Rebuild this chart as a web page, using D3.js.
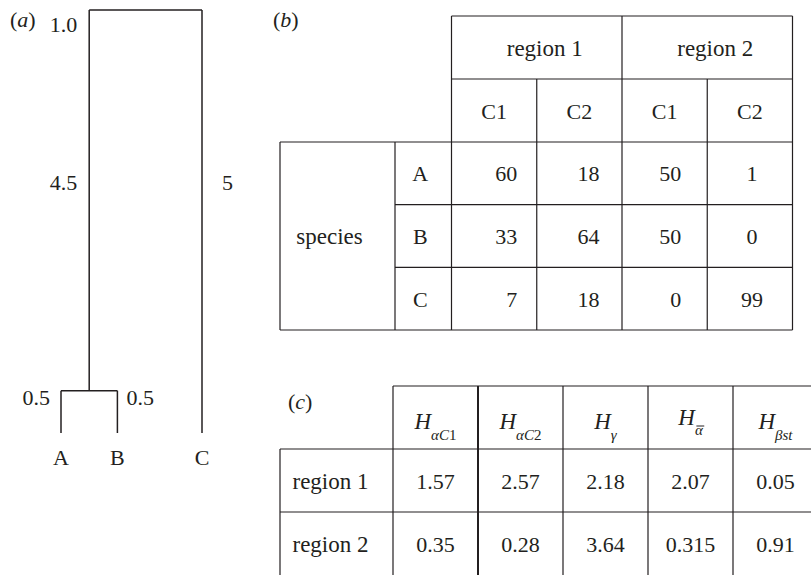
<!DOCTYPE html>
<html><head><meta charset="utf-8">
<script src="https://cdn.jsdelivr.net/npm/d3@7"></script>
<style>
html,body{margin:0;padding:0;background:#fff;}
svg{display:block;font-family:"Liberation Serif","Times New Roman",serif;}
</style></head><body>
<svg id="chart" width="811" height="575"></svg>
<script>
// ---------- data ----------
// (a) dendrogram
const nodeNames = ["root", "AB", "A", "B", "C"];
const nodeParents = ["", "root", "AB", "AB", "root"];
const nodeBranchLengths = [0, 4.5, 0.5, 0.5, 5];
const rootLabel = "1.0";
// (b) abundance table
const regions = ["region 1", "region 2"];
const communities = ["C1", "C2"];
const species = ["A", "B", "C"];
const region1C1 = [60, 33, 7];
const region1C2 = [18, 64, 18];
const region2C1 = [50, 50, 0];
const region2C2 = [1, 0, 99];
// (c) diversity table
const indexSubscripts = ["αC1", "αC2", "γ", "α", "βst"];
const indexRows = ["region 1", "region 2"];
const region1Index = [1.57, 2.57, 2.18, 2.07, 0.05];
const region2Index = [0.35, 0.28, 3.64, 0.315, 0.91];

// ---------- drawing ----------
const INK = "#231f20";
const FS = 22;      // numbers / single letters
const FW = 23;      // words
const svg = d3.select("#chart");

function panelLabel(x, y, letter) {
  const t = svg.append("text").attr("x", x).attr("y", y).attr("font-size", FS).attr("fill", INK);
  t.append("tspan").text("(");
  t.append("tspan").attr("font-style", "italic").text(letter);
  t.append("tspan").text(")");
}

// ===== (a) =====
panelLabel(10, 27, "a");
const rows = nodeNames.map((n, i) => ({ id: n, parent: nodeParents[i], len: nodeBranchLengths[i] }));
const root = d3.stratify().id(d => d.id).parentId(d => d.parent || null)(rows);
root.eachBefore(n => { n.h = (n.parent ? n.parent.h : 0) + n.data.len; });
const yTree = d3.scaleLinear().domain([0, 5]).range([10, 433]);
const leaves = root.leaves();
let slot = 0;
leaves.forEach((l, i) => {
  if (i > 0 && leaves[i - 1].parent !== l.parent) slot += 0.5;
  l.slot = slot; slot += 1;
});
const xTree = d3.scaleLinear().domain([0, d3.max(leaves, l => l.slot)]).range([61, 202]);
root.eachAfter(n => {
  n.x = n.children ? d3.mean([n.children[0].x, n.children[n.children.length - 1].x]) : xTree(n.slot);
  n.y = yTree(n.h);
});
const gA = svg.append("g").attr("fill", "none").attr("stroke", INK).attr("stroke-width", 1.5);
root.descendants().forEach(n => {
  if (n.children) {
    const c = n.children;
    gA.append("line").attr("x1", c[0].x).attr("x2", c[c.length - 1].x).attr("y1", n.y).attr("y2", n.y);
  }
  if (n.parent) {
    gA.append("line").attr("x1", n.x).attr("x2", n.x).attr("y1", n.parent.y).attr("y2", n.y);
  }
});
const tA = svg.append("g").attr("font-size", FS).attr("fill", INK);
tA.append("text").attr("x", root.children[0].x - 12).attr("y", root.y + 22).attr("text-anchor", "end").text(rootLabel);
const ab = root.children[0], cNode = root.children[1];
const midY = yTree(ab.data.len / 2) - 10;
tA.append("text").attr("x", ab.x - 12).attr("y", midY).attr("text-anchor", "end").text(ab.data.len);
tA.append("text").attr("x", cNode.x + 20).attr("y", midY).attr("text-anchor", "start").text(cNode.data.len);
tA.append("text").attr("x", ab.children[0].x - 11).attr("y", ab.y + 14).attr("text-anchor", "end").text(ab.children[0].data.len.toFixed(1));
tA.append("text").attr("x", ab.children[1].x + 9).attr("y", ab.y + 14).attr("text-anchor", "start").text(ab.children[1].data.len.toFixed(1));
leaves.forEach(l => {
  tA.append("text").attr("x", l.x).attr("y", l.y + 32).attr("text-anchor", "middle").text(l.id);
});

// ===== (b) =====
panelLabel(273, 27, "b");
const colKeys = [];
regions.forEach(r => communities.forEach(c => colKeys.push(r + "|" + c)));
const colVals = [region1C1, region1C2, region2C1, region2C2];
const xB = d3.scaleBand().domain(colKeys).range([451.5, 792.5]);
const yBh = d3.scaleBand().domain(["region", "community"]).range([16, 142]);
const yB = d3.scaleBand().domain(species).range([142, 330]);
const xSpecies = [280, 395];
const gB = svg.append("g").attr("stroke", INK).attr("stroke-width", 1.2);
const L = (g, x1, y1, x2, y2) => g.append("line").attr("x1", x1).attr("y1", y1).attr("x2", x2).attr("y2", y2);
const bR = xB.range()[1], bL = xB.range()[0];
L(gB, bL, 16, bR, 16);
L(gB, bL, yBh("community"), bR, yBh("community"));
L(gB, xSpecies[0], 142, bR, 142);
species.slice(1).forEach(s => L(gB, xSpecies[1], yB(s), bR, yB(s)));
L(gB, xSpecies[0], 330, bR, 330);
L(gB, xSpecies[0], 142, xSpecies[0], 330);
L(gB, xSpecies[1], 142, xSpecies[1], 330);
colKeys.forEach((k, i) => {
  const top = (i % communities.length === 0) ? 16 : yBh("community");
  L(gB, xB(k), top, xB(k), 330);
});
L(gB, bR, 16, bR, 330);
const tB = svg.append("g").attr("font-size", FS).attr("fill", INK);
regions.forEach((r, i) => {
  const x0 = xB(colKeys[i * 2]), x1 = xB(colKeys[i * 2 + 1]) + xB.bandwidth();
  tB.append("text").attr("x", (x0 + x1) / 2 + 8).attr("y", yBh("region") + yBh.bandwidth() / 2 + 8)
    .attr("font-size", FW).attr("text-anchor", "middle").text(r);
});
colKeys.forEach(k => {
  tB.append("text").attr("x", xB(k) + xB.bandwidth() / 2).attr("y", yBh("community") + yBh.bandwidth() / 2 + 8)
    .attr("text-anchor", "middle").text(k.split("|")[1]);
});
tB.append("text").attr("x", (xSpecies[0] + xSpecies[1]) / 2 - 8).attr("y", 236 + 8)
  .attr("font-size", FW).attr("text-anchor", "middle").text("species");
const numPad = [19.5, 22.5, 26];
species.forEach((s, j) => {
  const cy = yB(s) + yB.bandwidth() / 2 + 8;
  tB.append("text").attr("x", (xSpecies[1] + bL) / 2 - 3).attr("y", cy).attr("text-anchor", "middle").text(s);
  colKeys.forEach((k, i) => {
    const v = colVals[i][j];
    if (i < 3) {
      tB.append("text").attr("x", xB(k) + xB.bandwidth() - numPad[i]).attr("y", cy).attr("text-anchor", "end").text(v);
    } else {
      tB.append("text").attr("x", xB(k) + xB.bandwidth() / 2 + 2).attr("y", cy).attr("text-anchor", "middle").text(v);
    }
  });
});

// ===== (c) =====
panelLabel(288, 409, "c");
const xC = d3.scaleBand().domain(indexSubscripts).range([393, 818]);
const yC = d3.scaleBand().domain(["head"].concat(indexRows)).range([386, 575]);
const gC = svg.append("g").attr("stroke", INK).attr("stroke-width", 1.2);
const cL = 280, cR = xC.range()[1];
L(gC, xC.range()[0], yC("head"), cR, yC("head"));
indexRows.forEach(r => L(gC, cL, yC(r), cR, yC(r)));
L(gC, cL, yC(indexRows[0]), cL, 575);
L(gC, xC.range()[0], 386, xC.range()[0], 575);
indexSubscripts.forEach((s, i) => {
  if (i > 0) L(gC, xC(s), 386, xC(s), 575).attr("stroke-width", i === 1 ? 2 : 1.2);
});
const tC = svg.append("g").attr("fill", INK);
const headTexts = [];
indexSubscripts.forEach((s, i) => {
  const cx = xC(s) + xC.bandwidth() / 2;
  const isBar = i === 3;
  const by = isBar ? 425 : 429;
  const t = tC.append("text").attr("x", cx).attr("y", by).attr("text-anchor", "middle").attr("font-style", "italic");
  t.append("tspan").attr("font-size", FW).text("H");
  const sub = t.append("tspan").attr("font-size", 15).attr("dy", isBar ? 10 : 11);
  const m = s.match(/^(\D+)(\d*)$/);
  sub.text(m[1]);
  if (m[2]) t.append("tspan").attr("font-size", 15).attr("font-style", "normal").text(m[2]);
  headTexts.push(sub);
});
// overline for the mean-alpha subscript
{
  const subEl = headTexts[3].node();
  const n = subEl.getNumberOfChars();
  const start = subEl.getStartPositionOfChar(0);
  const end = subEl.getEndPositionOfChar(n - 1);
  tC.append("line").attr("x1", start.x + 1.5).attr("x2", end.x + 1.5).attr("y1", 426).attr("y2", 426)
    .attr("stroke", INK).attr("stroke-width", 1);
}
const rowVals = [region1Index, region2Index];
indexRows.forEach((r, j) => {
  const cy = yC(r) + yC.bandwidth() / 2 + 8;
  tC.append("text").attr("x", (cL + xC.range()[0]) / 2 - 6).attr("y", cy).attr("font-size", FW)
    .attr("text-anchor", "middle").text(r);
  indexSubscripts.forEach((s, i) => {
    tC.append("text").attr("x", xC(s) + xC.bandwidth() / 2).attr("y", cy).attr("font-size", FS)
      .attr("text-anchor", "middle").text(rowVals[j][i]);
  });
});
</script>
</body></html>
